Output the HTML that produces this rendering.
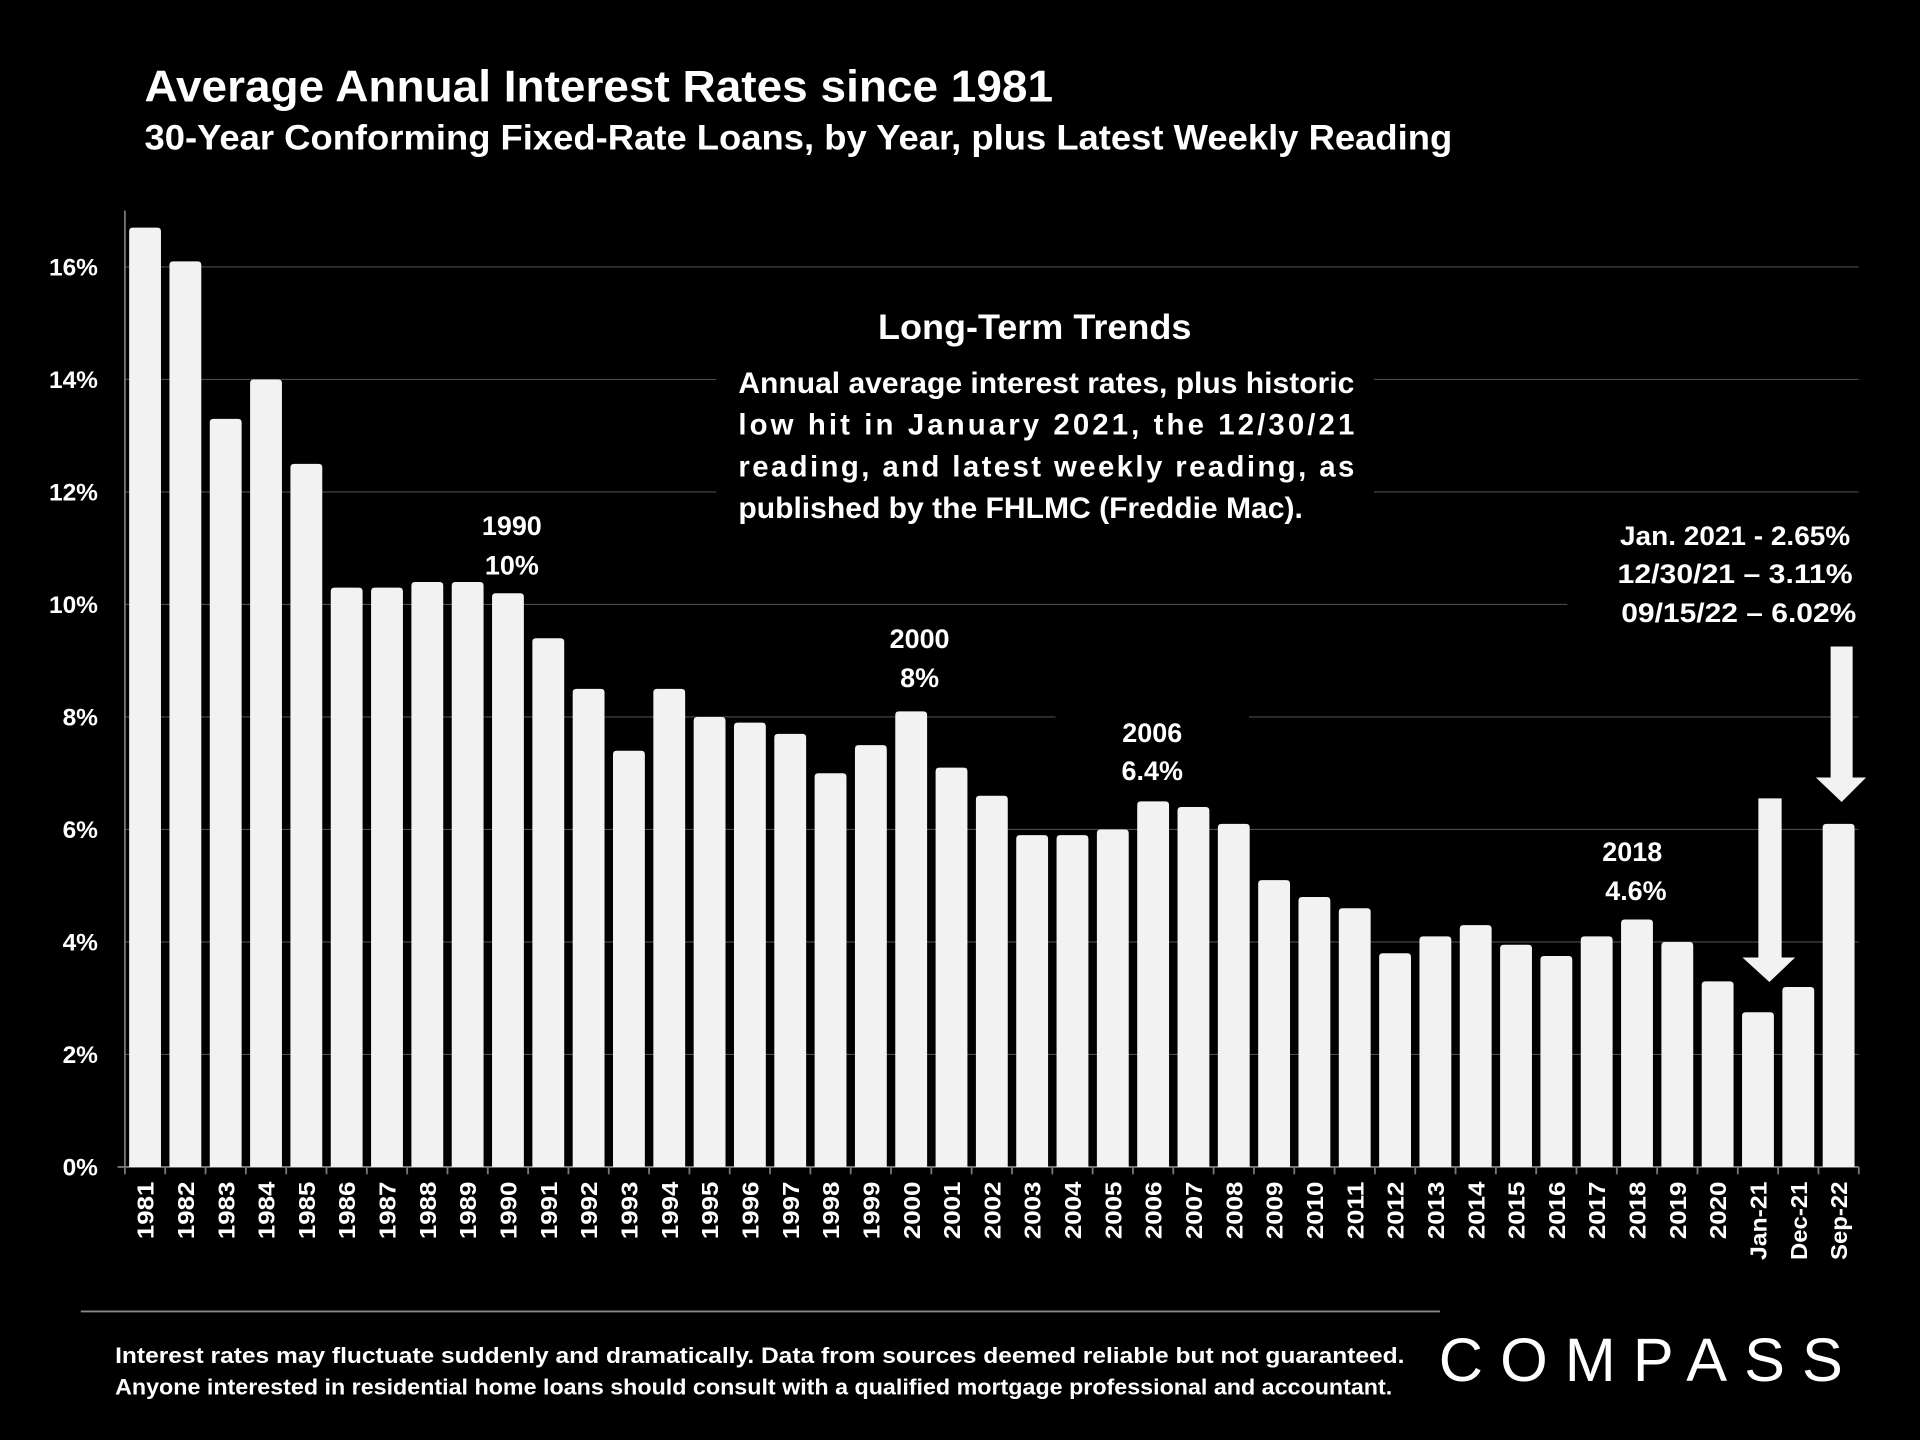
<!DOCTYPE html>
<html><head><meta charset="utf-8"><style>
html,body{margin:0;padding:0;background:#000;}
svg{display:block;}
text{font-family:"Liberation Sans",sans-serif;font-weight:bold;fill:#fff;}
</style></head><body>
<svg id="chart" width="1920" height="1440" viewBox="0 0 1568 1176" preserveAspectRatio="none" xmlns="http://www.w3.org/2000/svg">
<rect x="0" y="0" width="1568" height="1176" fill="#000"/>
<text x="118" y="83" font-size="36" textLength="742" lengthAdjust="spacingAndGlyphs">Average Annual Interest Rates since 1981</text>
<text x="118" y="122" font-size="29" textLength="1068" lengthAdjust="spacingAndGlyphs">30-Year Conforming Fixed-Rate Loans, by Year, plus Latest Weekly Reading</text>
<g id="grid"></g>
<g id="ylabels"></g>

<g>
<rect x="585" y="240" width="537" height="192" fill="#000"/>
<text x="845" y="277" font-size="29" text-anchor="middle" textLength="256" lengthAdjust="spacingAndGlyphs">Long-Term Trends</text>
<text x="603" y="321" font-size="24" textLength="503" lengthAdjust="spacingAndGlyphs">Annual average interest rates, plus historic</text>
<text x="603" y="355" font-size="24" textLength="503" lengthAdjust="spacing">low hit in January 2021, the 12/30/21</text>
<text x="603" y="389" font-size="24" textLength="503" lengthAdjust="spacing">reading, and latest weekly reading, as</text>
<text x="603" y="423" font-size="24" textLength="461" lengthAdjust="spacingAndGlyphs">published by the FHLMC (Freddie Mac).</text>
</g>

<g>
<rect x="390" y="412" width="58" height="60" fill="#000"/>
<text x="418" y="437" font-size="22" text-anchor="middle">1990</text>
<text x="418" y="469" font-size="22" text-anchor="middle">10%</text>
</g>
<g>
<rect x="716" y="504" width="70" height="66" fill="#000"/>
<text x="751" y="529" font-size="22" text-anchor="middle">2000</text>
<text x="751" y="561" font-size="22" text-anchor="middle">8%</text>
</g>
<g>
<rect x="862" y="580" width="158" height="66" fill="#000"/>
<text x="941" y="606" font-size="22" text-anchor="middle">2006</text>
<text x="941" y="637" font-size="22" text-anchor="middle">6.4%</text>
</g>
<g>
<rect x="1295" y="678" width="76" height="66" fill="#000"/>
<text x="1333" y="703" font-size="22" text-anchor="middle">2018</text>
<text x="1336" y="735" font-size="22" text-anchor="middle">4.6%</text>
</g>
<g>
<rect x="1280" y="420" width="245" height="100" fill="#000"/>
<text x="1417" y="445" font-size="22" text-anchor="middle" textLength="188" lengthAdjust="spacingAndGlyphs">Jan. 2021 - 2.65%</text>
<text x="1417" y="476" font-size="22" text-anchor="middle" textLength="192" lengthAdjust="spacingAndGlyphs">12/30/21 – 3.11%</text>
<text x="1420" y="508" font-size="22" text-anchor="middle" textLength="192" lengthAdjust="spacingAndGlyphs">09/15/22 – 6.02%</text>
</g>
<g id="bars"></g>
<g id="xlabels"></g>
<polygon points="1495,528 1513,528 1513,635 1524,635 1504,655 1483,635 1495,635" fill="#f2f2f2"/>
<polygon points="1436,652 1455,652 1455,782 1466,782 1445,802 1423,782 1436,782" fill="#f2f2f2"/>

<line x1="66" y1="1071" x2="1176" y2="1071" stroke="#888" stroke-width="1.5"/>
<text x="94" y="1113" font-size="18" textLength="1053" lengthAdjust="spacingAndGlyphs">Interest rates may fluctuate suddenly and dramatically. Data from sources deemed reliable but not guaranteed.</text>
<text x="94" y="1139" font-size="18" textLength="1043" lengthAdjust="spacingAndGlyphs">Anyone interested in residential home loans should consult with a qualified mortgage professional and accountant.</text>
<text x="1175" y="1128" font-size="50" style="font-weight:normal" textLength="330" lengthAdjust="spacing">COMPASS</text>
</svg>
<script>
const categories = ["1981","1982","1983","1984","1985","1986","1987","1988","1989","1990","1991","1992","1993","1994","1995","1996","1997","1998","1999","2000","2001","2002","2003","2004","2005","2006","2007","2008","2009","2010","2011","2012","2013","2014","2015","2016","2017","2018","2019","2020","Jan-21","Dec-21","Sep-22"];
const rates = [16.7,16.1,13.3,14.0,12.5,10.3,10.3,10.4,10.4,10.2,9.4,8.5,7.4,8.5,8.0,7.9,7.7,7.0,7.5,8.1,7.1,6.6,5.9,5.9,6.0,6.5,6.4,6.1,5.1,4.8,4.6,3.8,4.1,4.3,3.95,3.75,4.1,4.4,4.0,3.3,2.75,3.2,6.1];
const yTicks = [0,2,4,6,8,10,12,14,16];
const yTickLabels = ["0%","2%","4%","6%","8%","10%","12%","14%","16%"];

const NS = "http://www.w3.org/2000/svg";
const X0 = 102, X1 = 1518, Y0 = 953, Y16 = 218;
const band = (X1 - X0) / categories.length;
function yScale(v){ return Y0 - (Y0 - Y16) * v / 16; }
function xCenter(i){ return X0 + (i + 0.5) * band; }
function mk(tag, attrs, parent){ const e=document.createElementNS(NS,tag); for(const k in attrs) e.setAttribute(k,attrs[k]); parent.appendChild(e); return e; }

const grid = document.getElementById('grid');
const ylab = document.getElementById('ylabels');
yTicks.forEach((t,i)=>{
  if(t>0){
    const l = mk('line',{x1:X0,x2:X1,y1:yScale(t),y2:yScale(t),stroke:'#4a4a4a','stroke-width':1},grid);
    
    
  }
  const tx = mk('text',{x:80,y:yScale(t)+7,'font-size':20,'text-anchor':'end'},ylab);
  tx.textContent = yTickLabels[i];
  
  
});
const axis = mk('line',{x1:X0,x2:X0,y1:172,y2:Y0,stroke:'#777','stroke-width':1.5},grid);


const xaxis = mk('line',{x1:X0-6,x2:X1,y1:Y0,y2:Y0,stroke:'#777','stroke-width':1.5},grid);


for(let i=0;i<=categories.length;i++){
  const tk = mk('line',{x1:X0+i*band,x2:X0+i*band,y1:Y0,y2:Y0+6,stroke:'#777','stroke-width':1.5},grid);
  
  
}

const bars = document.getElementById('bars');
const xl = document.getElementById('xlabels');
const bw = 26;
categories.forEach((c,i)=>{
  const top = yScale(rates[i]);
  const r = 3;
  const x = xCenter(i) - bw/2;
  const d = `M${x},${Y0} L${x},${top+r} Q${x},${top} ${x+r},${top} L${x+bw-r},${top} Q${x+bw},${top} ${x+bw},${top+r} L${x+bw},${Y0} Z`;
  const p = mk('path',{d:d,fill:'#f2f2f2'},bars);
  
  
  const len = c.length > 4 ? 64 : 47;
  const t = mk('text',{x:0,y:0,'font-size':19,'text-anchor':'end',textLength:len,lengthAdjust:'spacingAndGlyphs',transform:`translate(${xCenter(i)+7},${965}) rotate(-90)`},xl);
  t.textContent = c;
  
  
});
</script>
</body></html>
